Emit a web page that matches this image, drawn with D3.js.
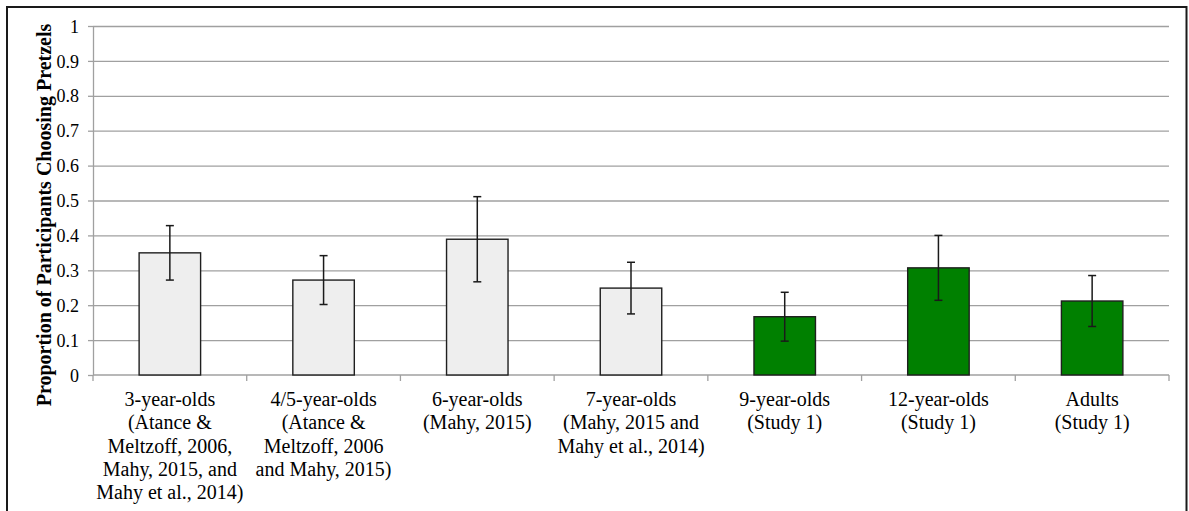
<!DOCTYPE html>
<html>
<head>
<meta charset="utf-8">
<script src="https://cdn.jsdelivr.net/npm/d3@7"></script>
<style>
  html, body { margin: 0; padding: 0; background: #ffffff; }
  svg { display: block; }
  svg text { font-family: "Liberation Serif", "Times New Roman", Times, serif; fill: #000; }
</style>
</head>
<body>
<svg id="chart" width="1189" height="511"></svg>
<script>
// Age groups, each label split into its printed lines
const categoryLines = [
  ["3-year-olds", "(Atance &", "Meltzoff, 2006,", "Mahy, 2015, and", "Mahy et al., 2014)"],
  ["4/5-year-olds", "(Atance &", "Meltzoff, 2006", "and Mahy, 2015)"],
  ["6-year-olds", "(Mahy, 2015)"],
  ["7-year-olds", "(Mahy, 2015 and", "Mahy et al., 2014)"],
  ["9-year-olds", "(Study 1)"],
  ["12-year-olds", "(Study 1)"],
  ["Adults", "(Study 1)"]
];
const categories = categoryLines.map(l => l.join(" "));

// Proportion choosing pretzels and error-bar half widths
const proportions = [0.35, 0.272, 0.389, 0.249, 0.167, 0.307, 0.212];
const errors      = [0.078, 0.070, 0.122, 0.074, 0.070, 0.093, 0.073];

// Data source for each group: earlier studies vs. Study 1
const sources = ["prior", "prior", "prior", "prior", "study1", "study1", "study1"];

const yTicks = [0, 0.1, 0.2, 0.3, 0.4, 0.5, 0.6, 0.7, 0.8, 0.9, 1];
const yTitle = "Proportion of Participants Choosing Pretzels";

const rows = categories.map((c, i) => ({
  category: c, lines: categoryLines[i], value: proportions[i], err: errors[i], source: sources[i]
}));

const serif = "'Liberation Serif', 'Times New Roman', Times, serif";

const svg = d3.select("#chart");
const plot = { left: 93, right: 1169, top: 26, bottom: 375 };

const x = d3.scaleBand().domain(categories).range([plot.left, plot.right]).padding(0);
const y = d3.scaleLinear().domain([0, 1]).range([plot.bottom, plot.top]);
const fill = d3.scaleOrdinal().domain(["prior", "study1"]).range(["#eeeeee", "#008000"]);

const barW = x.bandwidth() * 0.4;
const gridColor = "#a0a0a0";

// Outer frame
svg.append("rect")
  .attr("x", 7).attr("y", 7)
  .attr("width", 1179.5).attr("height", 520)
  .attr("fill", "none").attr("stroke", "#1a1a1a").attr("stroke-width", 2);

// Y axis with horizontal gridlines
const yAxis = svg.append("g")
  .attr("transform", `translate(${plot.left},0)`)
  .call(d3.axisLeft(y).tickValues(yTicks).tickSize(5).tickSizeOuter(0)
    .tickFormat(d => d3.format("")(+d.toFixed(1))));
yAxis.attr("font-family", null).attr("font-size", null);
yAxis.select(".domain").attr("stroke", gridColor).attr("stroke-width", 1.3);
yAxis.selectAll(".tick line").attr("stroke", gridColor).attr("stroke-width", 1.3);
yAxis.selectAll(".tick text")
  .attr("x", -14).attr("dy", "0.34em")
  .attr("font-family", serif)
  .style("font-size", "18px");
yAxis.selectAll(".tick").filter(d => d > 0)
  .append("line")
  .attr("x1", 0).attr("x2", plot.right - plot.left)
  .attr("stroke", gridColor).attr("stroke-width", 1.3);

// X axis with category boundary ticks
const boundaries = categories.map(c => x(c)).concat([plot.right]);
const xg = svg.append("g");
xg.append("line")
  .attr("x1", plot.left).attr("x2", plot.right)
  .attr("y1", y(0)).attr("y2", y(0))
  .attr("stroke", gridColor).attr("stroke-width", 1.3);
xg.selectAll("line.bt").data(boundaries).join("line")
  .attr("class", "bt")
  .attr("x1", d => d).attr("x2", d => d)
  .attr("y1", y(0)).attr("y2", y(0) + 6)
  .attr("stroke", gridColor).attr("stroke-width", 1.3);

// Bars
svg.append("g").selectAll("rect").data(rows).join("rect")
  .attr("x", d => x(d.category) + (x.bandwidth() - barW) / 2)
  .attr("y", d => y(d.value))
  .attr("width", barW)
  .attr("height", d => y(0) - y(d.value))
  .attr("fill", d => fill(d.source))
  .attr("stroke", "#1f1f1f").attr("stroke-width", 1.4);

// Error bars
const eb = svg.append("g").selectAll("g").data(rows).join("g")
  .attr("transform", d => `translate(${x(d.category) + x.bandwidth() / 2},0)`);
eb.append("line")
  .attr("y1", d => y(d.value + d.err)).attr("y2", d => y(d.value - d.err))
  .attr("stroke", "#1a1a1a").attr("stroke-width", 1.5);
eb.append("line")
  .attr("x1", -4).attr("x2", 4)
  .attr("y1", d => y(d.value + d.err)).attr("y2", d => y(d.value + d.err))
  .attr("stroke", "#1a1a1a").attr("stroke-width", 1.5);
eb.append("line")
  .attr("x1", -4).attr("x2", 4)
  .attr("y1", d => y(d.value - d.err)).attr("y2", d => y(d.value - d.err))
  .attr("stroke", "#1a1a1a").attr("stroke-width", 1.5);

// Category labels
const labels = svg.append("g").selectAll("text").data(rows).join("text")
  .attr("text-anchor", "middle")
  .attr("font-family", serif)
  .attr("x", d => x(d.category) + x.bandwidth() / 2)
  .attr("y", 406)
  .style("font-size", "20px");
labels.selectAll("tspan").data(d => d.lines).join("tspan")
  .attr("x", function () { return d3.select(this.parentNode).attr("x"); })
  .attr("dy", (d, i) => i === 0 ? 0 : 23.3)
  .text(d => d);

// Y axis title
svg.append("text")
  .attr("transform", `translate(51,215) rotate(-90)`)
  .attr("text-anchor", "middle")
  .attr("font-family", serif)
  .style("font-size", "20px").style("font-weight", "bold")
  .text(yTitle);
</script>
</body>
</html>
